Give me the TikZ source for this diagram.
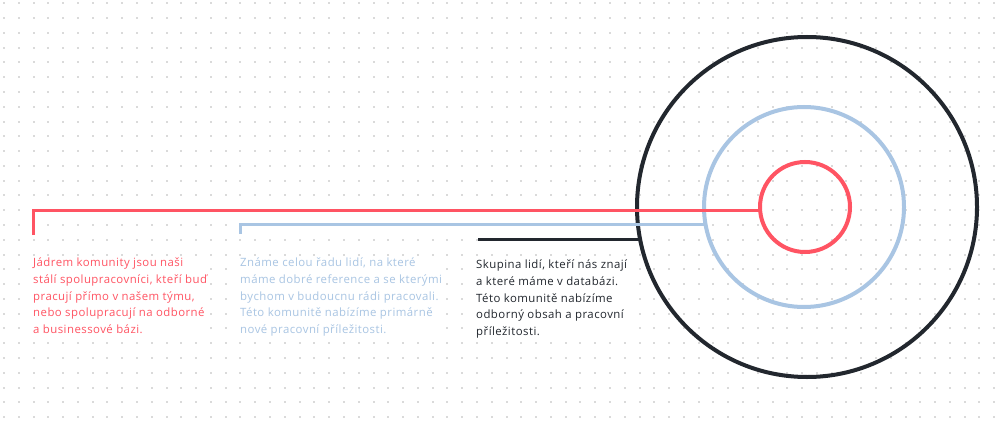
\documentclass[tikz,border=0pt]{standalone}
\usepackage{fontspec}
\setmainfont[LetterSpace=4]{Open Sans}
\usepackage{xcolor}
\usepackage{tikz}
\usetikzlibrary{positioning,calc}
\definecolor{ringred}{HTML}{FF5463}
\definecolor{ringblue}{HTML}{A9C5E3}
\definecolor{ringdark}{HTML}{22272E}
\definecolor{griddot}{HTML}{DADADA}

\begin{document}
\begin{tikzpicture}[x=1pt,y=-1pt,font=\fontsize{11.4}{16.6}\selectfont]
  \tikzstyle{ring}=[draw,circle,line width=4pt,inner sep=0pt,outer sep=0pt]
  \tikzstyle{lead}=[line width=3pt]
  \tikzstyle{txt}=[anchor=north west,align=left,fill=white,inner sep=2pt]
  \fill[white] (0,0) rectangle (1000,422);
  \useasboundingbox (0,0) rectangle (1000,422);
  % dotted background
  \foreach \i in {0,...,67}
    \foreach \j in {0,...,28}
      \fill[griddot] ({3+14.78*\i},{2.3+14.78*\j}) rectangle ++(2,2);
  % rings
  \node[ring,ringdark,minimum size=340pt] (outer) at (807,207) {};
  \node[ring,ringblue,minimum size=200pt] (mid) at (804,207) {};
  \node[ring,ringred,minimum size=90pt] (core) at (805,207) {};
  % leads
  \coordinate (coreA) at (33,235);
  \coordinate (midA) at (240,234);
  \coordinate (outerA) at (478,239);
  \draw[lead,ringred] (coreA) |- (core.184);
  \draw[lead,ringblue] (midA) |- (mid.190);
  \draw[lead,ringdark] (outerA) -- (outerA -| outer.190);
  % texts
  \node[txt,text=ringred] (coretxt) at (31,256) {Jádrem komunity jsou naši\\stálí spolupracovníci, kteří buď\\pracují přímo v našem týmu,\\nebo spolupracují na odborné\\a businessové bázi.};
  \node[txt,text=ringblue] (midtxt) at (238,256) {Známe celou řadu lidí, na které\\máme dobré reference a se kterými\\bychom v budoucnu rádi pracovali.\\Této komunitě nabízíme primárně\\nové pracovní příležitosti.};
  \node[txt,text=ringdark] (outertxt) at (474,258) {Skupina lidí, kteří nás znají\\a které máme v databázi.\\Této komunitě nabízíme\\odborný obsah a pracovní\\příležitosti.};
\end{tikzpicture}
\end{document}
